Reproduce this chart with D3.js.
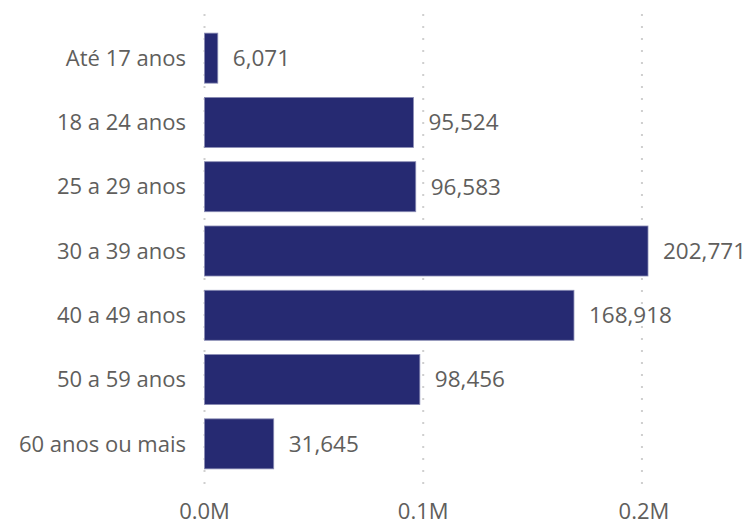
<!DOCTYPE html>
<html><head><meta charset="utf-8">
<script src="https://cdn.jsdelivr.net/npm/d3@7"></script>
<style>body{margin:0;background:#fff;}svg{display:block;}</style>
</head><body>
<svg id="c" width="749" height="527"></svg>
<script>
const categories = ["Até 17 anos","18 a 24 anos","25 a 29 anos","30 a 39 anos","40 a 49 anos","50 a 59 anos","60 anos ou mais"];
const values = [6071, 95524, 96583, 202771, 168918, 98456, 31645];
const tickValues = [0, 100000, 200000];
const tickLabels = ["0.0M","0.1M","0.2M"];

const svg = d3.select("#c");
const font = "'Open Sans', 'Segoe UI', sans-serif";
const x = d3.scaleLinear().domain([0, 202771]).range([204.5, 648]);
const y = d3.scaleBand().domain(categories).range([26, 476]).paddingInner(0.222).paddingOuter(0.111);

// gridlines
svg.append("g").selectAll("line").data(tickValues).join("line")
  .attr("x1", d => x(d)).attr("x2", d => x(d))
  .attr("y1", 14).attr("y2", 484)
  .attr("stroke", "#cfcfcf").attr("stroke-width", 2)
  .attr("stroke-dasharray", "2,10");

// bars
svg.append("g").selectAll("rect").data(values).join("rect")
  .attr("x", x(0))
  .attr("y", (d, i) => y(categories[i]))
  .attr("width", d => x(d) - x(0))
  .attr("height", y.bandwidth())
  .attr("fill", "#262a72")
  .attr("stroke", "#8a8cb4").attr("stroke-width", 0.8);

// value labels
const fmt = d3.format(",");
svg.append("g").selectAll("text").data(values).join("text")
  .attr("x", d => x(d) + 15)
  .attr("y", (d, i) => y(categories[i]) + y.bandwidth() / 2)
  .attr("dy", "0.35em")
  .attr("font-family", font).attr("font-size", 22.5).attr("fill", "#605e5c")
  .text(d => fmt(d));

// y axis labels
svg.append("g").selectAll("text").data(categories).join("text")
  .attr("x", 186)
  .attr("y", d => y(d) + y.bandwidth() / 2)
  .attr("dy", "0.35em")
  .attr("text-anchor", "end")
  .attr("font-family", font).attr("font-size", 22).attr("fill", "#605e5c")
  .text(d => d);

// x axis labels
svg.append("g").selectAll("text").data(tickValues).join("text")
  .attr("x", (d, i) => x(d) + (i === 2 ? 2 : 0))
  .attr("y", 511)
  .attr("dy", "0.35em")
  .attr("text-anchor", "middle")
  .attr("font-family", font).attr("font-size", 22).attr("fill", "#605e5c")
  .text((d, i) => tickLabels[i]);
</script>
</body></html>
